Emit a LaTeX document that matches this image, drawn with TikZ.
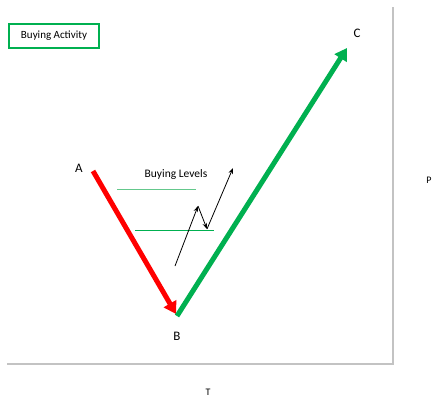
\documentclass[tikz,border=0pt]{standalone}
\usepackage{fontspec}
\setmainfont{Carlito}
\usetikzlibrary{arrows.meta}
\definecolor{gr}{RGB}{0,176,80}
\definecolor{lgr}{RGB}{100,200,140}
\definecolor{frame}{RGB}{195,195,195}
\begin{document}
\begin{tikzpicture}[x=1pt,y=-1pt,
  lbl/.style={inner sep=0pt,font=\fontsize{13}{15}\selectfont},
  small/.style={inner sep=0pt,font=\fontsize{10}{12}\selectfont},
  big/.style={line width=5pt,-{Triangle[length=12pt,width=14pt]}},
  thin/.style={line width=0.8pt,-{Stealth[length=6pt,width=4.5pt]}}]
\useasboundingbox (0,0) rectangle (434,399);
\draw[frame,line width=1.5pt] (7,364) -- (393,364) -- (393,7);
\node[draw=gr,line width=1.5pt,minimum width=90pt,minimum height=24pt,inner sep=2pt,font=\fontsize{11}{13}\selectfont] (ba) at (54,36) {Buying Activity};
\coordinate (a) at (93,171);
\coordinate (b) at (176,314);
\coordinate (b2) at (177,316);
\coordinate (c) at (347,48);
\draw[big,red] (a) -- (b);
\draw[big,gr] (b2) -- (c);
\node[lbl] (la) at (79,168) {A};
\node[lbl] (lb) at (177,336) {B};
\node[lbl] (lc) at (357,33) {C};
\node[small] (p) at (429,180) {P};
\node[small] (t) at (208,392) {T};
\node[inner sep=0pt,font=\fontsize{11.5}{13}\selectfont] (bl) at (176,174) {Buying Levels};
\draw[lgr,line width=1pt] (117,189.5) -- (196,189.5);
\draw[gr,line width=1pt] (135,230) -- (214,230);
\coordinate (s1) at (175,266);
\coordinate (s2) at (198,206);
\coordinate (s3) at (207,229);
\coordinate (s4) at (233,168);
\draw[thin] (s1) -- (s2);
\draw[thin] (s2) -- (s3);
\draw[thin] (s3) -- (s4);
\end{tikzpicture}
\end{document}
